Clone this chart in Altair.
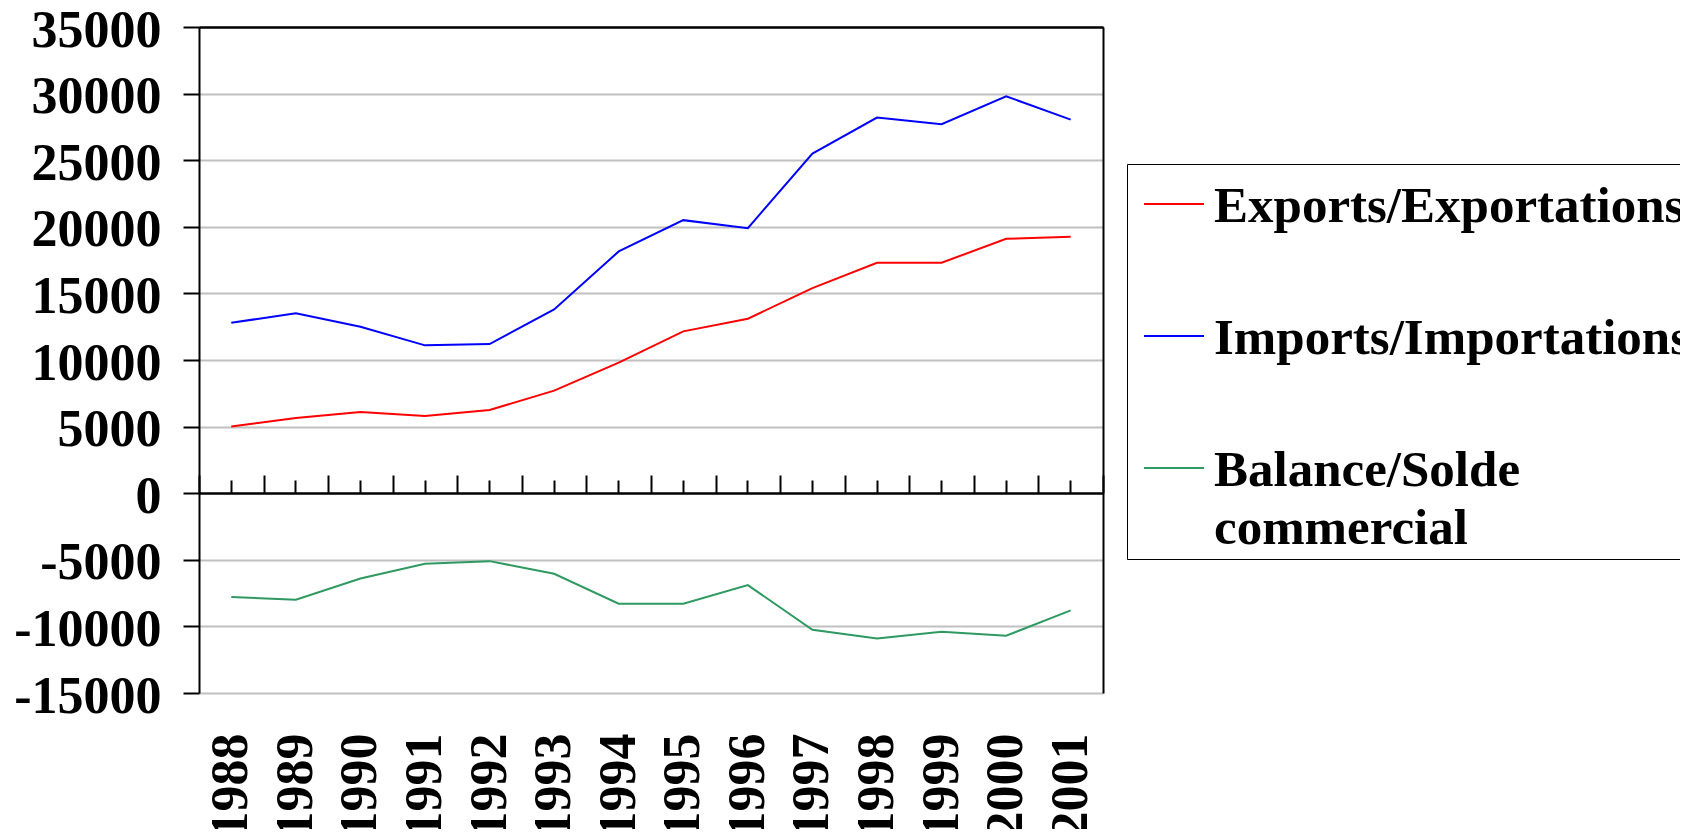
import altair as alt
import pandas as pd

years = ["1988", "1989", "1990", "1991", "1992", "1993", "1994",
         "1995", "1996", "1997", "1998", "1999", "2000", "2001"]
exports = [5000, 5650, 6100, 5800, 6250, 7700, 9800,
           12150, 13100, 15400, 17300, 17300, 19100, 19250]
imports = [12800, 13500, 12500, 11100, 11200, 13800, 18150,
           20500, 19900, 25500, 28200, 27700, 29800, 28050]
balance = [-7800, -8000, -6400, -5300, -5100, -6050, -8300,
           -8300, -6900, -10250, -10900, -10400, -10700, -8800]
series_names = ["Exports/Exportations", "Imports/Importations", "Balance/Solde commercial"]
series_colors = ["#FF0000", "#0000FF", "#2E9960"]
y_ticks = [-15000, -10000, -5000, 0, 5000, 10000, 15000, 20000, 25000, 30000, 35000]

rows = []
for name, vals in zip(series_names, [exports, imports, balance]):
    for yr, v in zip(years, vals):
        rows.append({"Year": yr, "Value": v, "Series": name})
df = pd.DataFrame(rows)

FONT = "Liberation Serif"
W, H = 904, 666

x_scale = alt.Scale(type="band", paddingInner=0, paddingOuter=0, domain=years)
y_scale = alt.Scale(domain=[-15000, 35000], nice=False, zero=False)

base = alt.Chart(df)

lines = base.mark_line(strokeWidth=2).encode(
    x=alt.X("Year:O", scale=x_scale, title=None,
            axis=alt.Axis(orient="bottom", labelAngle=270, ticks=False, tickSize=0,
                          domain=False, grid=False, labelPadding=40,
                          labelFont=FONT, labelFontSize=52, labelFontWeight="bold",
                          labelColor="black")),
    y=alt.Y("Value:Q", title=None, scale=y_scale,
            axis=alt.Axis(orient="left", values=y_ticks, labelExpr="'' + datum.value",
                          tickSize=16, tickWidth=2,
                          tickColor="black", domainColor="black", domainWidth=2,
                          labelFont=FONT, labelFontSize=52, labelFontWeight="bold",
                          labelColor="black", labelPadding=22, labelOffset=3,
                          gridColor=alt.condition("datum.value == 0 || datum.value == 35000",
                                                  alt.value("black"), alt.value("#C0C0C0")),
                          gridWidth=2)),
    color=alt.Color("Series:N",
                    scale=alt.Scale(domain=series_names, range=series_colors),
                    legend=alt.Legend(orient="none", legendX=928, legendY=137,
                                      title=" ", titleFontSize=2, titlePadding=20,
                                      labelExpr="datum.label == 'Balance/Solde commercial' ? ['Balance/Solde', 'commercial'] : datum.label",
                                      labelBaseline="alphabetic",
                                      symbolType="M-1,-0.6L1,-0.6",
                                      symbolSize=3600, symbolStrokeWidth=2,
                                      symbolOffset=11,
                                      labelOffset=9, labelLimit=2000,
                                      rowPadding=81, padding=5,
                                      strokeColor="black", fillColor="white",
                                      labelFont=FONT, labelFontSize=51,
                                      labelFontWeight="bold", labelColor="black")),
)

ticks_long = base.mark_point(opacity=0).encode(
    x=alt.X("Year:O", scale=x_scale, title=None,
            axis=alt.Axis(orient="top", offset=-466, labels=False, grid=False,
                          tickBand="extent", tickSize=18, tickWidth=2, tickColor="black",
                          domain=True, domainColor="black", domainWidth=2)),
)

ticks_short = base.mark_point(opacity=0).encode(
    x=alt.X("Year:O", scale=x_scale, title=None,
            axis=alt.Axis(orient="top", offset=-466, labels=False, grid=False,
                          tickSize=13, tickWidth=2, tickColor="black", domain=False)),
)

right_border = base.mark_point(opacity=0).encode(
    x=alt.X("Year:O", scale=x_scale, title=None,
            axis=alt.Axis(orient="top", labels=False, grid=False, ticks=False,
                          domain=True, domainColor="black", domainWidth=2)),
    y=alt.Y("Value:Q", title=None, scale=y_scale,
            axis=alt.Axis(orient="right", labels=False, grid=False, ticks=False,
                          domain=True, domainColor="black", domainWidth=2)),
)

chart = alt.layer(lines, ticks_long, ticks_short, right_border).resolve_axis(
    x="independent", y="independent"
).properties(
    width=W, height=H,
    autosize=alt.AutoSizeParams(type="none"),
    padding={"left": 191, "top": 19, "right": 577, "bottom": 136},
).configure_view(
    stroke="black", strokeWidth=2
).configure_legend(
    strokeWidth=1.5, cornerRadius=0
).configure(
    background="white",
    style={"guide-label": {"lineHeight": 58}},
)

chart.save("out.html", embed_options={"renderer": "svg", "actions": False})
